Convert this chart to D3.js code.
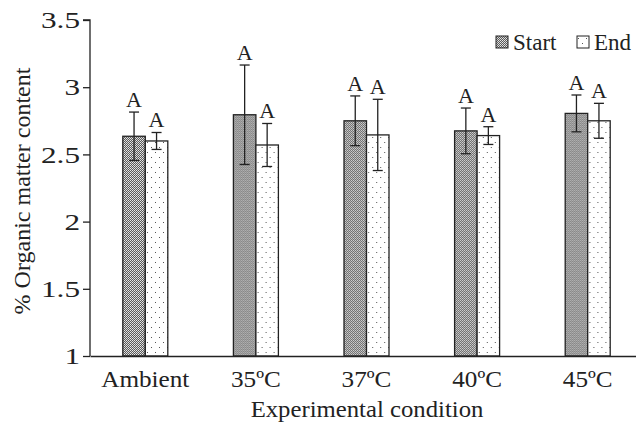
<!DOCTYPE html>
<html>
<head>
<meta charset="utf-8">
<script src="https://cdn.jsdelivr.net/npm/d3@7/dist/d3.min.js"></script>
<style>
  body { margin: 0; background: #fff; }
  text { font-family: "Liberation Serif", "Times New Roman", serif; fill: #222; }
</style>
</head>
<body>
<div class="chart"></div>
<script>
var categories = ["Ambient", "35ºC", "37ºC", "40ºC", "45ºC"];
var seriesNames = ["Start", "End"];
var startValues = [2.635, 2.795, 2.75, 2.675, 2.805];
var startErrors = [0.18, 0.37, 0.185, 0.17, 0.137];
var endValues = [2.60, 2.57, 2.645, 2.64, 2.75];
var endErrors = [0.063, 0.16, 0.265, 0.066, 0.13];
var letters = [["A", "A"], ["A", "A"], ["A", "A"], ["A", "A"], ["A", "A"]];
var yTicks = [1, 1.5, 2, 2.5, 3, 3.5];

var width = 636, height = 424;
var margin = {top: 20, right: -7, bottom: 68, left: 90};

var svg = d3.select(".chart").append("svg")
    .attr("width", width)
    .attr("height", height);

// patterns
var defs = svg.append("defs");
var pStart = defs.append("pattern")
    .attr("id", "pat-start")
    .attr("patternUnits", "userSpaceOnUse")
    .attr("width", 2).attr("height", 2);
pStart.append("rect").attr("width", 2).attr("height", 2).attr("fill", "#5a5a5a");
pStart.append("rect").attr("width", 1).attr("height", 1).attr("fill", "#e8e8e8");
pStart.append("rect").attr("x", 1).attr("y", 1).attr("width", 1).attr("height", 1).attr("fill", "#d0d0d0");

var pEnd = defs.append("pattern")
    .attr("id", "pat-end")
    .attr("patternUnits", "userSpaceOnUse")
    .attr("width", 8).attr("height", 10);
pEnd.append("rect").attr("width", 8).attr("height", 10).attr("fill", "#fff");
pEnd.append("rect").attr("x", 1).attr("y", 2).attr("width", 1).attr("height", 1).attr("fill", "#555");
pEnd.append("rect").attr("x", 5).attr("y", 7).attr("width", 1).attr("height", 1).attr("fill", "#555");

var fills = ["url(#pat-start)", "url(#pat-end)"];

var x0 = d3.scaleBand()
    .domain(categories)
    .range([margin.left, width - margin.right])
    .paddingInner(0)
    .paddingOuter(0);

var x1 = d3.scaleBand()
    .domain(seriesNames)
    .range([x0.bandwidth() / 2 - 22.5, x0.bandwidth() / 2 + 22.5]);

var y = d3.scaleLinear()
    .domain([1, 3.5])
    .range([height - margin.bottom, margin.top]);

var data = categories.map(function(c, i) {
  return {cat: c, values: [
    {key: "Start", v: startValues[i], e: startErrors[i], l: letters[i][0]},
    {key: "End", v: endValues[i], e: endErrors[i], l: letters[i][1]}
  ]};
});

var group = svg.selectAll(".group")
    .data(data)
  .enter().append("g")
    .attr("class", "group")
    .attr("transform", function(d) { return "translate(" + x0(d.cat) + ",0)"; });

var bar = group.selectAll(".bar")
    .data(function(d) { return d.values; })
  .enter().append("g")
    .attr("class", "bar");

bar.append("rect")
    .attr("x", function(d) { return x1(d.key); })
    .attr("y", function(d) { return y(d.v); })
    .attr("width", x1.bandwidth())
    .attr("height", function(d) { return y(1) - y(d.v); })
    .attr("fill", function(d, i) { return fills[i]; })
    .attr("stroke", "#222")
    .attr("stroke-width", 1.3);

// error bars
var cx = function(d) { return x1(d.key) + x1.bandwidth() / 2; };
bar.append("line")
    .attr("x1", cx).attr("x2", cx)
    .attr("y1", function(d) { return y(d.v + d.e); })
    .attr("y2", function(d) { return y(d.v - d.e); })
    .attr("stroke", "#222").attr("stroke-width", 1.3);
bar.selectAll(".cap")
    .data(function(d) { return [d.v + d.e, d.v - d.e].map(function(t) { return {d: d, t: t}; }); })
  .enter().append("line")
    .attr("x1", function(c) { return cx(c.d) - 5; })
    .attr("x2", function(c) { return cx(c.d) + 5; })
    .attr("y1", function(c) { return y(c.t); })
    .attr("y2", function(c) { return y(c.t); })
    .attr("stroke", "#222").attr("stroke-width", 1.3);

bar.append("text")
    .attr("x", cx)
    .attr("y", function(d) { return y(d.v + d.e) - 5; })
    .attr("text-anchor", "middle")
    .style("font-size", "22px")
    .text(function(d) { return d.l; });

// axes
var yAxis = d3.axisLeft(y)
    .tickValues(yTicks)
    .tickSize(7)
    .tickFormat(d3.format(""));

var gy = svg.append("g")
    .attr("transform", "translate(" + margin.left + ",0)")
    .call(yAxis);
gy.selectAll("text")
    .style("font-size", "24px")
    .attr("fill", "#222")
    .attr("x", -7.7)
    .attr("transform", "scale(1.3,1)");
gy.selectAll("line, path").attr("stroke", "#222").attr("stroke-width", 1.3);
gy.select(".domain").attr("d", "M-7," + y(3.5) + "H0V" + y(1));

var xAxis = d3.axisBottom(x0)
    .tickSize(0)
    .tickPadding(14);

var gx = svg.append("g")
    .attr("transform", "translate(0," + y(1) + ")")
    .call(xAxis);
gx.selectAll("text")
    .style("font-size", "24px")
    .attr("fill", "#222")
    .attr("transform", "scale(1.05,1)");
gx.select(".domain").attr("stroke", "#222").attr("stroke-width", 1.3);

svg.append("text")
    .attr("transform", "translate(367,417) scale(1.03,1)")
    .attr("text-anchor", "middle")
    .style("font-size", "24px")
    .text("Experimental condition");

svg.append("text")
    .attr("transform", "translate(30,191) rotate(-90)")
    .attr("text-anchor", "middle")
    .style("font-size", "24px")
    .text("% Organic matter content");

// legend
var legend = svg.append("g").attr("transform", "translate(496,36)");
var legItems = legend.selectAll(".leg")
    .data(seriesNames)
  .enter().append("g")
    .attr("transform", function(d, i) { return "translate(" + (i * 81) + ",0)"; });
legItems.append("rect")
    .attr("width", 12).attr("height", 12)
    .attr("fill", function(d, i) { return fills[i]; })
    .attr("stroke", "#222").attr("stroke-width", 1);
legItems.append("text")
    .attr("transform", "translate(17,14)")
    .style("font-size", "23px")
    .text(function(d) { return d; });
</script>
</body>
</html>
